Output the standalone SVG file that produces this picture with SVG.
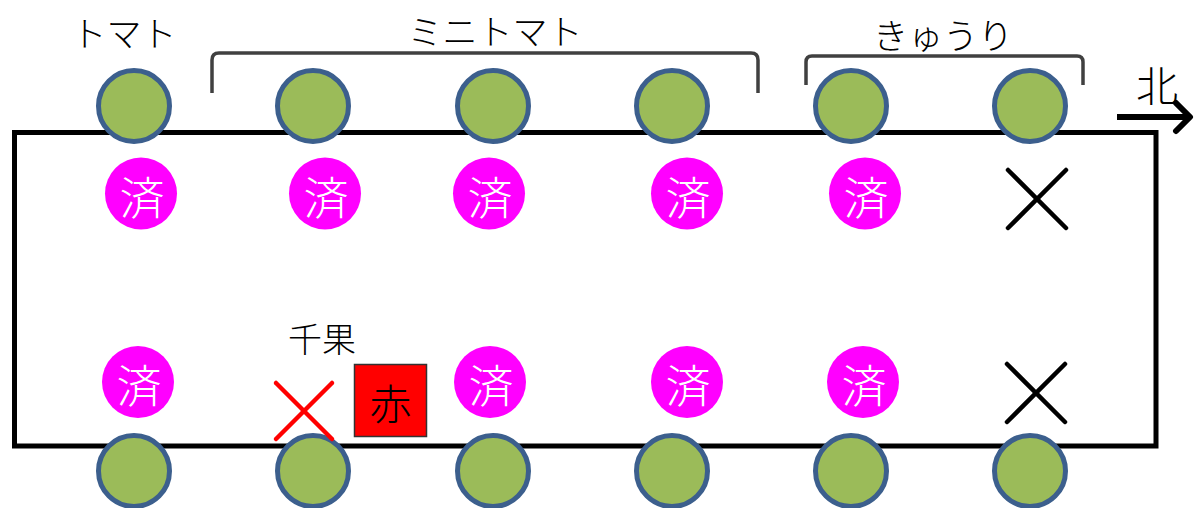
<svg xmlns="http://www.w3.org/2000/svg" width="1194" height="508" viewBox="0 0 1194 508">
<defs>
<style>
.lbl{font-family:"Noto Sans CJK JP","Noto Sans",sans-serif;font-size:35px;font-weight:300;fill:#000;text-anchor:middle;dominant-baseline:central}
.plant{fill:#9bbb59;stroke:#3c5f8d;stroke-width:5}
.done{fill:#ff00ff}
.donet{font-family:"Noto Sans CJK JP",sans-serif;font-size:45px;font-weight:300;fill:#fff;text-anchor:middle;dominant-baseline:central}
.brk{fill:none;stroke:#404040;stroke-width:3.5}
.xk{stroke:#000;stroke-width:4.5;stroke-linecap:round}
.xr{stroke:#ff0000;stroke-width:4.5;stroke-linecap:round}
</style>
</defs>
<rect width="1194" height="508" fill="#fff"/>
<g id="bed">
<rect x="14.5" y="132.5" width="1141.5" height="313.5" fill="none" stroke="#000" stroke-width="5"/>
</g>
<g id="connectors">
<path class="brk" d="M212,93 V60 Q212,53 219,53 H751 Q758,53 758,60 V93"/>
<path class="brk" d="M806,85 V62 Q806,56 812,56 H1077 Q1083,56 1083,62 V85"/>
<line x1="1117" y1="117" x2="1188" y2="117" stroke="#000" stroke-width="6"/>
<polyline points="1176,103 1190,117 1176,131" fill="none" stroke="#000" stroke-width="6" stroke-linecap="round" stroke-linejoin="round"/>
</g>
<g id="labels">
<text class="lbl" x="124" y="31">トマト</text>
<text class="lbl" x="495" y="29">ミニトマト</text>
<text class="lbl" x="943" y="33">きゅうり</text>
<text class="lbl" x="1157" y="83" style="font-size:42px">北</text>
<text class="lbl" x="322" y="337" style="font-size:34px">千果</text>
</g>
<g id="plants-top">
<circle class="plant" cx="134" cy="106" r="35.5"/>
<circle class="plant" cx="313" cy="106" r="35.5"/>
<circle class="plant" cx="493" cy="106" r="35.5"/>
<circle class="plant" cx="672" cy="106" r="35.5"/>
<circle class="plant" cx="851" cy="106" r="35.5"/>
<circle class="plant" cx="1030" cy="106" r="35.5"/>
</g>
<g id="plants-bottom">
<circle class="plant" cx="134" cy="471" r="35.5"/>
<circle class="plant" cx="313" cy="471" r="35.5"/>
<circle class="plant" cx="493" cy="471" r="35.5"/>
<circle class="plant" cx="672" cy="471" r="35.5"/>
<circle class="plant" cx="851" cy="471" r="35.5"/>
<circle class="plant" cx="1030" cy="471" r="35.5"/>
</g>
<g id="done-top">
<circle class="done" cx="141" cy="193.5" r="36"/><text class="donet" x="142" y="195">済</text>
<circle class="done" cx="325" cy="193.5" r="36"/><text class="donet" x="326" y="195">済</text>
<circle class="done" cx="489" cy="193.5" r="36"/><text class="donet" x="490" y="195">済</text>
<circle class="done" cx="687" cy="193.5" r="36"/><text class="donet" x="688" y="195">済</text>
<circle class="done" cx="865" cy="193.5" r="36"/><text class="donet" x="866" y="195">済</text>
</g>
<g id="done-bottom">
<circle class="done" cx="138" cy="382" r="36"/><text class="donet" x="139" y="383.5">済</text>
<circle class="done" cx="490" cy="382" r="36"/><text class="donet" x="491" y="383.5">済</text>
<circle class="done" cx="687" cy="382" r="36"/><text class="donet" x="688" y="383.5">済</text>
<circle class="done" cx="863" cy="382" r="36"/><text class="donet" x="864" y="383.5">済</text>
</g>
<g id="cross-top">
<line class="xk" x1="1008" y1="170" x2="1066" y2="228"/>
<line class="xk" x1="1066" y1="170" x2="1008" y2="228"/>
</g>
<g id="cross-bottom">
<line class="xk" x1="1007" y1="364" x2="1065" y2="422"/>
<line class="xk" x1="1065" y1="364" x2="1007" y2="422"/>
</g>
<g id="cross-red">
<line class="xr" x1="276" y1="383" x2="332" y2="439"/>
<line class="xr" x1="332" y1="383" x2="276" y2="439"/>
</g>
<g id="red-box">
<rect x="354.5" y="364.5" width="72" height="72" fill="#ff0000" stroke="#333" stroke-width="1.5"/>
<text class="lbl" x="390.5" y="401" style="font-size:42px">赤</text>
</g>
</svg>
